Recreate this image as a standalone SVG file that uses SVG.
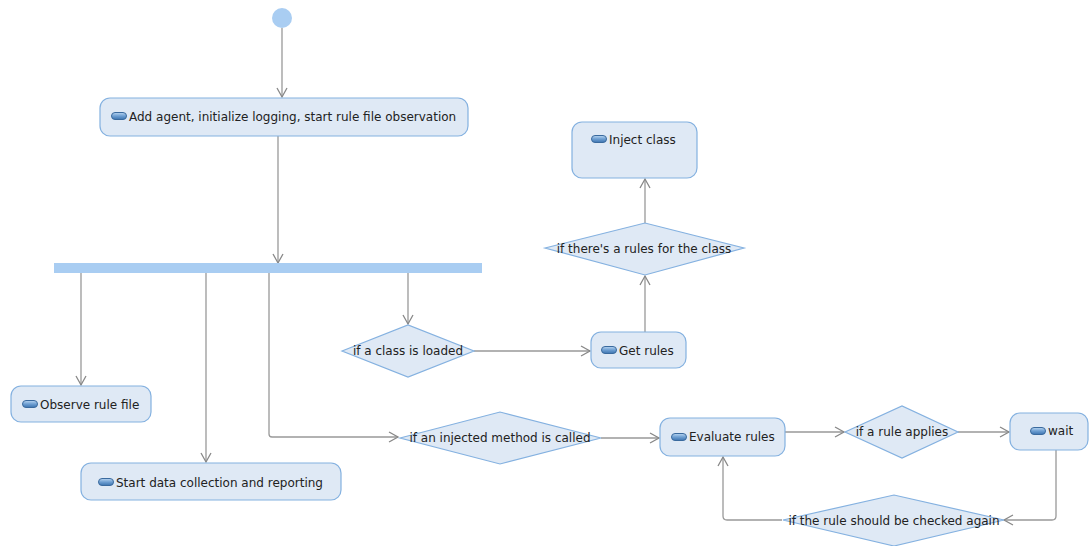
<svg xmlns="http://www.w3.org/2000/svg" width="1089" height="546" viewBox="0 0 1089 546">
<style>
.act{fill:#dfe9f5;stroke:#84b1e0;stroke-width:1.2}
.dec{fill:#dfe9f5;stroke:#84b1e0;stroke-width:1.2}
.bar{fill:#a9cdf2}
.t{font-family:"DejaVu Sans",sans-serif;font-size:12px;fill:#222}
.e{fill:none;stroke:#999;stroke-width:1.3}
</style>
<defs>
<linearGradient id="ig" x1="0" y1="0" x2="0" y2="1">
<stop offset="0" stop-color="#b9d6f2"/>
<stop offset="0.5" stop-color="#6e9fd2"/>
<stop offset="1" stop-color="#3d74b0"/>
</linearGradient>
<symbol id="icon" viewBox="0 0 16 8" overflow="visible">
<rect x="0.5" y="0.5" width="15" height="7" rx="3.5" fill="url(#ig)" stroke="#3a6a9e" stroke-width="1"/>
</symbol>
<marker id="arr" markerWidth="12" markerHeight="12" refX="10" refY="6" orient="auto" markerUnits="userSpaceOnUse">
<path d="M1,1 L10,6 L1,11" fill="none" stroke="#888" stroke-width="1.3"/>
</marker>
</defs>

<g id="connectors">
<path class="e" d="M282,28 L282,97" marker-end="url(#arr)"/>
<path class="e" d="M278,136 L278,263" marker-end="url(#arr)"/>
<path class="e" d="M81,273 L81,385" marker-end="url(#arr)"/>
<path class="e" d="M206,273 L206,462" marker-end="url(#arr)"/>
<path class="e" d="M269,273 L269,434 Q269,437 272,437 L398,437" marker-end="url(#arr)"/>
<path class="e" d="M408,273 L408,324" marker-end="url(#arr)"/>
<path class="e" d="M474,351 L590,351" marker-end="url(#arr)"/>
<path class="e" d="M645,332 L645,276" marker-end="url(#arr)"/>
<path class="e" d="M645,223 L645,179" marker-end="url(#arr)"/>
<path class="e" d="M601,438 L659,438" marker-end="url(#arr)"/>
<path class="e" d="M785,432 L844,432" marker-end="url(#arr)"/>
<path class="e" d="M958,432 L1009,432" marker-end="url(#arr)"/>
<path class="e" d="M1056,450 L1056,516 Q1056,520 1052,520 L1004,520" marker-end="url(#arr)"/>
<path class="e" d="M782,520 L727,520 Q723,520 723,516 L723,457" marker-end="url(#arr)"/>
</g>

<g id="start"><circle cx="282" cy="18" r="10" fill="#a9cdf2"/></g>

<g id="n-add">
<rect class="act" x="100" y="98" width="368" height="38" rx="10"/>
<use href="#icon" x="111" y="112" width="16" height="8"/>
<text class="t" x="129" y="121">Add agent, initialize logging, start rule file observation</text>
</g>

<g id="fork"><rect class="bar" x="54" y="263" width="428" height="10"/></g>

<g id="n-observe">
<rect class="act" x="11" y="386" width="140" height="36" rx="10"/>
<use href="#icon" x="22" y="400" width="16" height="8"/>
<text class="t" x="40" y="409">Observe rule file</text>
</g>

<g id="n-start">
<rect class="act" x="81" y="463" width="260" height="37" rx="10"/>
<use href="#icon" x="98" y="478" width="16" height="8"/>
<text class="t" x="116" y="487">Start data collection and reporting</text>
</g>

<g id="d-loaded">
<polygon class="dec" points="342,351 408,325 474,351 408,377"/>
<text class="t" x="408" y="355" text-anchor="middle">if a class is loaded</text>
</g>

<g id="n-getrules">
<rect class="act" x="591" y="332" width="95" height="36" rx="10"/>
<use href="#icon" x="601" y="346" width="16" height="8"/>
<text class="t" x="619" y="355">Get rules</text>
</g>

<g id="d-rules">
<polygon class="dec" points="545,248 645,223 744,248 645,275"/>
<text class="t" x="644" y="253" text-anchor="middle">if there's a rules for the class</text>
</g>

<g id="n-inject">
<rect class="act" x="572" y="122" width="125" height="56" rx="10"/>
<use href="#icon" x="591" y="135" width="16" height="8"/>
<text class="t" x="609" y="144">Inject class</text>
</g>

<g id="d-called">
<polygon class="dec" points="400,438 500,412 601,438 500,464"/>
<text class="t" x="500" y="442" text-anchor="middle">if an injected method is called</text>
</g>

<g id="n-eval">
<rect class="act" x="660" y="418" width="125" height="38" rx="10"/>
<use href="#icon" x="671" y="433" width="16" height="8"/>
<text class="t" x="689" y="441">Evaluate rules</text>
</g>

<g id="d-applies">
<polygon class="dec" points="845,432 902,406 958,432 902,458"/>
<text class="t" x="902" y="436" text-anchor="middle">if a rule applies</text>
</g>

<g id="n-wait">
<rect class="act" x="1010" y="413" width="78" height="37" rx="10"/>
<use href="#icon" x="1030" y="427" width="16" height="8"/>
<text class="t" x="1048" y="435">wait</text>
</g>

<g id="d-again">
<polygon class="dec" points="783,520 894,495 1004,520 894,546"/>
<text class="t" x="894" y="525" text-anchor="middle">if the rule should be checked again</text>
</g>
</svg>
